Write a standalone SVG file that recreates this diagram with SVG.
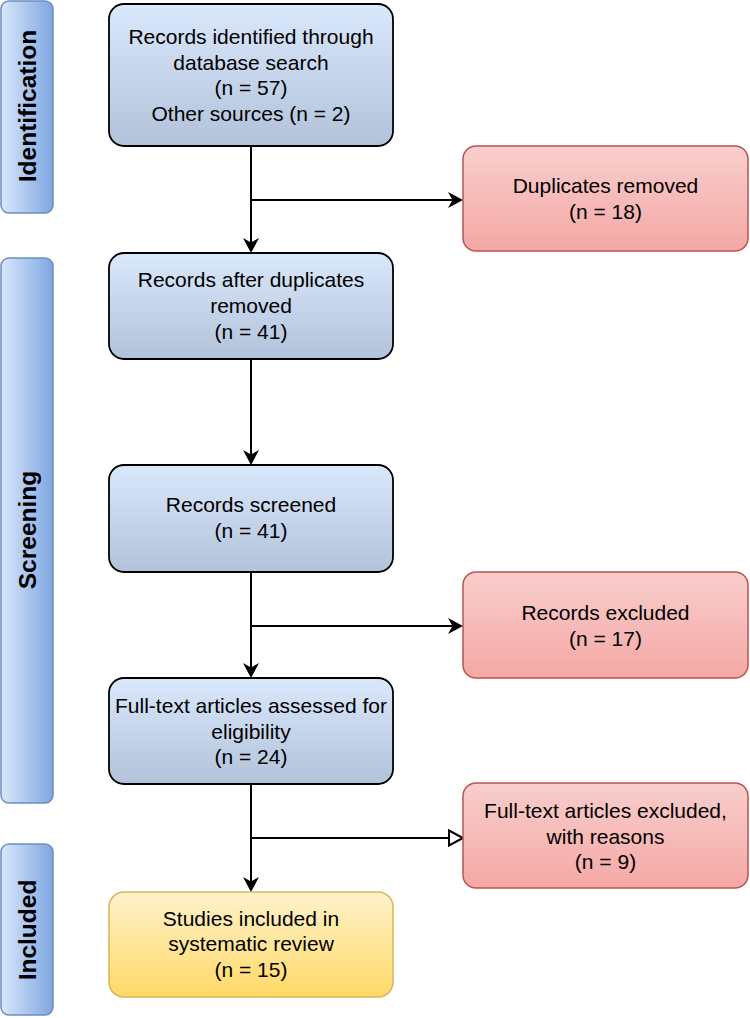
<svg xmlns="http://www.w3.org/2000/svg" width="750" height="1018" viewBox="0 0 750 1018">
  <style>
    .t { font-family: "Liberation Sans", Arial, sans-serif; font-size: 21px; fill: #000; text-anchor: middle; }
    .lab { font-family: "Liberation Sans", Arial, sans-serif; font-size: 24.5px; font-weight: bold; fill: #000; text-anchor: middle; }
    .blue { fill: url(#gBlue); stroke: #000; stroke-width: 1.8; }
    .red { fill: url(#gRed); stroke: #b85450; stroke-width: 1.5; }
    .yellow { fill: url(#gYellow); stroke: #d6b656; stroke-width: 1.5; }
    .bar { fill: url(#gBar); stroke: #6c8ebf; stroke-width: 1.5; }
    .conn { fill: none; stroke: #000; stroke-width: 2; }
  </style>
  <defs>
    <linearGradient id="gBlue" x1="0" y1="0" x2="0" y2="1">
      <stop offset="0" stop-color="#dae8fc"/>
      <stop offset="1" stop-color="#b1c2da"/>
    </linearGradient>
    <linearGradient id="gRed" x1="0" y1="0" x2="0" y2="1">
      <stop offset="0" stop-color="#f8cecc"/>
      <stop offset="1" stop-color="#f5a8a5"/>
    </linearGradient>
    <linearGradient id="gYellow" x1="0" y1="0" x2="0" y2="1">
      <stop offset="0" stop-color="#fff2cc"/>
      <stop offset="1" stop-color="#ffd966"/>
    </linearGradient>
    <linearGradient id="gBar" x1="0" y1="0" x2="1" y2="0">
      <stop offset="0" stop-color="#dae8fc"/>
      <stop offset="1" stop-color="#7ea6e0"/>
    </linearGradient>
    <marker id="arrow" markerUnits="userSpaceOnUse" markerWidth="18" markerHeight="18" viewBox="0 0 18 18" refX="11" refY="8.5" orient="auto">
      <path d="M0,0.5 L15,8.5 L0,16.5 L4.5,8.5 Z" fill="#000"/>
    </marker>
    <marker id="openArrow" markerUnits="userSpaceOnUse" markerWidth="20" markerHeight="20" viewBox="0 0 20 20" refX="1.5" refY="9.5" orient="auto">
      <path d="M1.5,2 L15.5,9.5 L1.5,17 Z" fill="#fff" stroke="#000" stroke-width="2" stroke-linejoin="miter"/>
    </marker>
  </defs>

  <g id="lane-identification">
    <rect class="bar" x="1" y="1" width="52" height="212" rx="8"/>
    <text class="lab" transform="translate(36,106) rotate(-90)">Identification</text>
  </g>
  <g id="lane-screening">
    <rect class="bar" x="1" y="258" width="52" height="545" rx="8"/>
    <text class="lab" transform="translate(36,530) rotate(-90)">Screening</text>
  </g>
  <g id="lane-included">
    <rect class="bar" x="1" y="844" width="52" height="171" rx="8"/>
    <text class="lab" transform="translate(36,930) rotate(-90)">Included</text>
  </g>

  <g id="connectors">
    <path class="conn" d="M251,146 V249" marker-end="url(#arrow)"/>
    <path class="conn" d="M251,200 H459" marker-end="url(#arrow)"/>
    <path class="conn" d="M251,359 V461" marker-end="url(#arrow)"/>
    <path class="conn" d="M251,572 V674" marker-end="url(#arrow)"/>
    <path class="conn" d="M251,626 H459" marker-end="url(#arrow)"/>
    <path class="conn" d="M251,784 V888" marker-end="url(#arrow)"/>
    <path class="conn" d="M251,838 H449" marker-end="url(#openArrow)"/>
  </g>

  <g id="records-identified">
    <rect class="blue" x="109" y="4" width="284" height="142" rx="15"/>
    <text class="t" x="251" y="44">Records identified through</text>
    <text class="t" x="251" y="69.5">database search</text>
    <text class="t" x="251" y="95">(n = 57)</text>
    <text class="t" x="251" y="120.5">Other sources (n = 2)</text>
  </g>
  <g id="duplicates-removed">
    <rect class="red" x="463" y="146" width="285" height="105" rx="13"/>
    <text class="t" x="605.5" y="193">Duplicates removed</text>
    <text class="t" x="605.5" y="219">(n = 18)</text>
  </g>
  <g id="records-after-duplicates">
    <rect class="blue" x="109" y="253" width="284" height="106" rx="15"/>
    <text class="t" x="251" y="287">Records after duplicates</text>
    <text class="t" x="251" y="312.5">removed</text>
    <text class="t" x="251" y="338.5">(n = 41)</text>
  </g>
  <g id="records-screened">
    <rect class="blue" x="109" y="465" width="284" height="107" rx="15"/>
    <text class="t" x="251" y="512">Records screened</text>
    <text class="t" x="251" y="538">(n = 41)</text>
  </g>
  <g id="records-excluded">
    <rect class="red" x="463" y="572" width="285" height="106" rx="13"/>
    <text class="t" x="605.5" y="620">Records excluded</text>
    <text class="t" x="605.5" y="645.5">(n = 17)</text>
  </g>
  <g id="full-text-assessed">
    <rect class="blue" x="109" y="678" width="284" height="106" rx="15"/>
    <text class="t" x="251" y="713">Full-text articles assessed for</text>
    <text class="t" x="251" y="738.5">eligibility</text>
    <text class="t" x="251" y="764">(n = 24)</text>
  </g>
  <g id="full-text-excluded">
    <rect class="red" x="463" y="783" width="285" height="105" rx="13"/>
    <text class="t" x="605.5" y="818">Full-text articles excluded,</text>
    <text class="t" x="605.5" y="843.5">with reasons</text>
    <text class="t" x="605.5" y="869">(n = 9)</text>
  </g>
  <g id="studies-included">
    <rect class="yellow" x="109" y="892" width="284" height="105" rx="15"/>
    <text class="t" x="251" y="926">Studies included in</text>
    <text class="t" x="251" y="951">systematic review</text>
    <text class="t" x="251" y="977">(n = 15)</text>
  </g>
</svg>
